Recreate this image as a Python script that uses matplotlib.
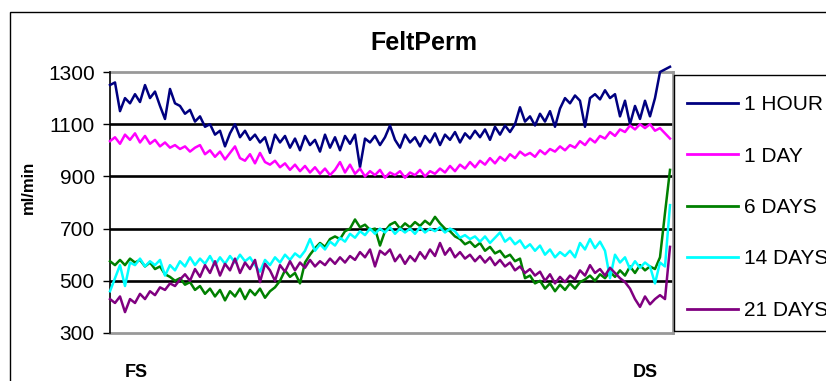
import matplotlib
matplotlib.use('Agg')
import matplotlib.pyplot as plt
from matplotlib.patches import Rectangle

plt.rcParams['font.family'] = ['Liberation Sans', 'DejaVu Sans']

# flow readings along the felt, FS -> DS (ml/min)
one_hour = [1250, 1260, 1150, 1200, 1180, 1215, 1185, 1250, 1200, 1225,
            1170, 1120, 1235, 1180, 1170, 1140, 1155, 1110, 1130, 1090,
            1100, 1060, 1075, 1015, 1065, 1100, 1050, 1075, 1040, 1060,
            1030, 1050, 990, 1060, 1030, 1055, 1010, 1045, 1000, 1055,
            1020, 1040, 995, 1060, 1010, 1050, 1000, 1055, 1025, 1060,
            935, 1045, 1030, 1055, 1020, 1050, 1095, 1040, 1010, 1060,
            1030, 1050, 1015, 1055, 1030, 1065, 1020, 1060, 1040, 1070,
            1030, 1065, 1045, 1075, 1050, 1080, 1040, 1090, 1060, 1095,
            1070, 1100, 1165, 1110, 1130, 1095, 1140, 1110, 1150, 1090,
            1160, 1200, 1180, 1210, 1190, 1090, 1200, 1215, 1195, 1230,
            1200, 1215, 1130, 1190, 1100, 1170, 1120, 1190, 1130, 1200,
            1300, 1310, 1320]
one_day = [1035, 1050, 1025, 1060, 1040, 1065, 1030, 1055, 1025, 1040,
           1015, 1030, 1010, 1020, 1005, 1015, 995, 1010, 1020, 985,
           1000, 975, 995, 965, 990, 1015, 970, 960, 985, 950,
           990, 955, 945, 960, 935, 950, 925, 945, 920, 940,
           915, 935, 910, 930, 905, 925, 955, 915, 945, 910,
           930, 900, 920, 905, 925, 895, 915, 905, 920, 895,
           915, 905, 925, 900, 920, 910, 930, 915, 940, 920,
           945, 930, 955, 935, 960, 945, 970, 950, 975, 960,
           985, 970, 995, 980, 990, 975, 1000, 985, 1005, 995,
           1015, 1000, 1020, 1010, 1035, 1020, 1045, 1030, 1055, 1045,
           1070, 1055, 1080, 1070, 1095, 1080, 1100, 1085, 1100, 1075,
           1085, 1065, 1045]
six_days = [575, 560, 580, 560, 585, 570, 580, 555, 570, 545,
            555, 525, 515, 500, 510, 485, 495, 465, 480, 450,
            470, 440, 465, 425, 460, 440, 470, 430, 465, 445,
            470, 435, 460, 475, 500, 540, 515, 530, 490, 570,
            600, 625, 645, 630, 660, 670, 660, 690, 700, 735,
            705, 715, 695, 700, 635, 690, 715, 725, 700, 720,
            705, 725, 710, 730, 715, 745, 720, 700, 690, 670,
            660, 640, 650, 630, 645, 615, 630, 605, 615, 590,
            600, 575, 585, 510, 520, 490, 500, 470, 490, 460,
            485, 465, 490, 470, 495, 505, 520, 500, 525, 510,
            535, 515, 540, 520, 555, 530, 560, 540, 555, 545,
            590, 760, 925]
fourteen_days = [460, 510, 560, 480, 570, 560, 585, 555, 575, 560,
                 580, 520, 560, 540, 575, 555, 590, 560, 585, 565,
                 595, 560, 590, 565, 595, 570, 600, 575, 590, 560,
                 535, 580, 560, 590, 570, 600, 580, 605, 590, 615,
                 660, 615, 640, 620, 650, 635, 665, 650, 680, 665,
                 690, 675, 700, 680, 700, 685, 705, 680, 700, 685,
                 700, 680, 705, 685, 700, 690, 705, 685, 700, 690,
                 665, 675, 660, 670, 650, 670, 645, 665, 685, 650,
                 665, 640, 655, 625, 640, 615, 635, 600, 620, 590,
                 610, 595, 615, 590, 645, 620, 660, 625, 650, 615,
                 510, 600, 570, 590, 545, 575, 550, 570, 555, 490,
                 570, 555, 790]
twentyone_days = [430, 415, 440, 380, 430, 415, 450, 430, 460, 445,
                  475, 465, 490, 480, 505, 525, 500, 545, 515, 560,
                  530, 575, 520, 565, 540, 585, 530, 570, 545, 580,
                  495, 565, 540, 500, 560, 535, 575, 540, 570, 550,
                  580, 555, 575, 560, 585, 565, 590, 570, 595, 580,
                  610, 590, 620, 555, 615, 600, 620, 575, 600, 565,
                  595, 575, 610, 585, 620, 595, 645, 600, 625, 590,
                  610, 585, 600, 575, 595, 570, 590, 560, 580, 555,
                  570, 540, 555, 530, 545, 520, 535, 500, 525, 490,
                  515, 495, 520, 505, 540, 520, 560, 530, 545, 520,
                  550, 530, 510, 495, 470, 430, 400, 440, 410, 430,
                  445, 430, 630]

series = [
    ('1 HOUR', one_hour, '#000080'),
    ('1 DAY', one_day, '#FF00FF'),
    ('6 DAYS', six_days, '#008000'),
    ('14 DAYS', fourteen_days, '#00FFFF'),
    ('21 DAYS', twentyone_days, '#800080'),
]
x_labels = ['FS', 'DS']
x_label_pos = [5.2, 107]

W, H = 826, 381
fig = plt.figure(figsize=(W / 100, H / 100), dpi=100)

# outer chart frame (runs off the right and bottom edges)
fig.add_artist(Rectangle((10 / W, -0.05), 1.0, 1 - 12 / H + 0.05,
                         transform=fig.transFigure, fill=False,
                         edgecolor='black', linewidth=1.0))

ax = fig.add_axes([110 / W, 48 / H, 563 / W, 261 / H])

for yv in [500, 700, 900, 1100]:
    ax.axhline(yv, color='black', linewidth=1.9, zorder=1)

for name, vals, col in series:
    ax.plot(range(len(vals)), vals, color=col, linewidth=1.8, label=name,
            zorder=3, clip_on=False)

ax.set_xlim(0, 112.6)
ax.set_ylim(300, 1300)
ax.set_yticks(range(300, 1301, 200))
ax.tick_params(axis='y', labelsize=15, length=5, width=1, direction='out', pad=6)
ax.set_xticks(x_label_pos)
ax.set_xticklabels(x_labels, fontsize=13, fontweight='bold')
ax.tick_params(axis='x', length=0, pad=22)

for side in ['top', 'right', 'bottom']:
    ax.spines[side].set_color('#999999')
    ax.spines[side].set_linewidth(2.0)
    ax.spines[side].set_zorder(2)
ax.spines['left'].set_color('black')
ax.spines['left'].set_linewidth(1.2)

fig.text(424 / W, 1 - 50 / H, 'FeltPerm', fontsize=18, fontweight='bold',
         ha='center', va='baseline')
fig.text(28 / W, 1 - 187 / H, 'ml/min', fontsize=12, fontweight='bold',
         rotation=90, ha='center', va='center')

# legend box, running off the right edge
fig.add_artist(Rectangle((674 / W, 1 - 331 / H), 0.5, 256 / H,
                         transform=fig.transFigure, fill=False,
                         edgecolor='black', linewidth=1.0))
leg = fig.legend(loc='upper left', bbox_to_anchor=(687 / W, 1 - 95 / H),
                 fontsize=15, frameon=False,
                 handlelength=2.45, handletextpad=0.3, borderpad=0,
                 labelspacing=1.56, borderaxespad=0)
for line in leg.get_lines():
    line.set_linewidth(2.0)

fig.savefig('out.png', dpi=100)
